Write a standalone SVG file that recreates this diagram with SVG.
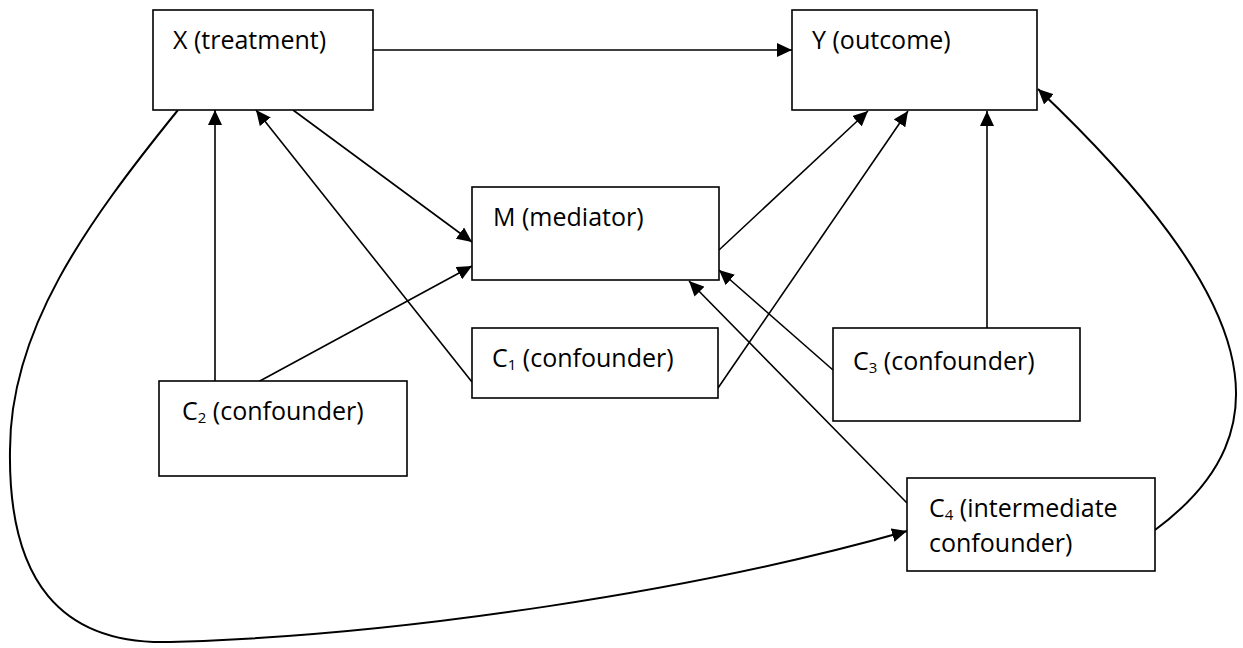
<svg xmlns="http://www.w3.org/2000/svg" width="1243" height="648" viewBox="0 0 1243 648">
<style>
.box{fill:#fff;stroke:#000;stroke-width:1.6}
.lbl{font-family:"Open Sans","Liberation Sans",sans-serif;font-size:25px;fill:#000}
.sub{font-size:15px}
.edge{fill:none;stroke:#000;stroke-width:1.6;marker-end:url(#ah)}
.curve{fill:none;stroke:#000;stroke-width:2;marker-end:url(#ah)}
</style>
<defs>
<marker id="ah" markerUnits="userSpaceOnUse" markerWidth="16" markerHeight="14" refX="15" refY="7" orient="auto">
<path d="M0,0 L15,7 L0,14 Z" fill="#000"/>
</marker>
</defs>
<g id="connectors">
<line class="edge" x1="373" y1="50" x2="792" y2="50"/>
<line class="edge" x1="293" y1="110" x2="472" y2="242"/>
<line class="edge" x1="215" y1="382" x2="215" y2="110"/>
<line class="edge" x1="472" y1="382" x2="256" y2="110"/>
<line class="edge" x1="258" y1="382" x2="472" y2="266"/>
<line class="edge" x1="719" y1="250" x2="868" y2="111"/>
<line class="edge" x1="718" y1="388" x2="908" y2="111"/>
<line class="edge" x1="987" y1="328" x2="987" y2="111"/>
<line class="edge" x1="833" y1="370" x2="719" y2="270"/>
<line class="edge" x1="907" y1="503" x2="689" y2="281"/>
<path class="curve" d="M1155,530 C1290,430 1260,300 1038,89"/>
<path class="curve" d="M178,110 C85,225 10,330 10,450 C8,580 60,645 170,642 C400,636 700,590 907,531"/>
</g>
<g id="X"><rect class="box" x="153" y="10" width="220" height="100"/><text class="lbl" x="173" y="49">X (treatment)</text></g>
<g id="Y"><rect class="box" x="792" y="10" width="245" height="100"/><text class="lbl" x="812" y="49">Y (outcome)</text></g>
<g id="M"><rect class="box" x="472" y="187" width="247" height="93"/><text class="lbl" x="493" y="226">M (mediator)</text></g>
<g id="C1"><rect class="box" x="472" y="328" width="246" height="70"/><text class="lbl" x="492" y="367">C<tspan class="sub" dy="3">1</tspan><tspan dy="-3"> (confounder)</tspan></text></g>
<g id="C2"><rect class="box" x="159" y="381" width="248" height="95"/><text class="lbl" x="182" y="420">C<tspan class="sub" dy="3">2</tspan><tspan dy="-3"> (confounder)</tspan></text></g>
<g id="C3"><rect class="box" x="833" y="328" width="247" height="93"/><text class="lbl" x="853" y="370">C<tspan class="sub" dy="3">3</tspan><tspan dy="-3"> (confounder)</tspan></text></g>
<g id="C4"><rect class="box" x="907" y="478" width="248" height="93"/><text class="lbl" x="929" y="517">C<tspan class="sub" dy="3">4</tspan><tspan dy="-3"> (intermediate</tspan></text><text class="lbl" x="929" y="552">confounder)</text></g>
</svg>
